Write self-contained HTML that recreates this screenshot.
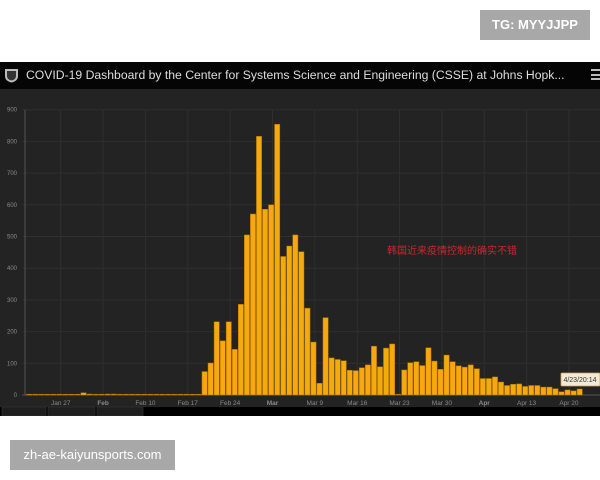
<!DOCTYPE html>
<html><head><meta charset="utf-8"><style>
body{margin:0;width:600px;height:480px;background:#fff;position:relative;overflow:hidden;font-family:"Liberation Sans","Noto Sans CJK SC",sans-serif}
.abs{position:absolute}
</style></head><body>
<div class="abs" style="left:480px;top:10px;width:110px;height:30px;background:#a8a8a8;color:#fff;font-size:13px;font-weight:bold;line-height:30px;text-align:center">TG: MYYJJPP</div>
<div class="abs" style="left:0;top:62px;width:600px;height:27px;background:#050505"></div>
<svg class="abs" style="left:4px;top:67px" width="15" height="16" viewBox="0 0 15 16"><path d="M1 2 L14 2 L14 9 Q14 14 7.5 15.5 Q1 14 1 9Z" fill="#bbb"/><path d="M3 4 L12 4 L12 9 Q12 12.5 7.5 13.5 Q3 12.5 3 9Z" fill="#333"/></svg>
<div class="abs" style="left:26px;top:68px;color:#ddd;font-size:12.2px;white-space:nowrap">COVID-19 Dashboard by the Center for Systems Science and Engineering (CSSE) at Johns Hopk...</div>
<div class="abs" style="left:591px;top:69px;width:9px;height:11px;border-top:2px solid #bbb;border-bottom:2px solid #bbb;box-sizing:border-box"><div style="margin-top:2.5px;height:2px;background:#bbb"></div></div>
<svg class="abs" id="chart" style="left:0;top:89px" width="600" height="327"></svg>
<div class="abs" style="left:10px;top:440px;width:165px;height:30px;background:#a8a8a8;color:#fff;font-size:13px;line-height:30px;text-align:center">zh-ae-kaiyunsports.com</div>
<script>
const values=[0,1,0,1,2,1,0,1,0,7,3,0,1,3,3,1,1,2,2,1,0,1,1,1,1,2,1,1,1,
74,101,231,171,231,144,286,505,571,816,586,600,854,437,470,505,452,
274,167,37,244,117,112,108,78,77,86,95,154,89,148,161,0,79,102,105,93,149,107,81,126,105,92,88,95,83,52,52,57,41,30,34,35,27,30,30,25,25,20,10,16,13,19];
const yTicks=[0,100,200,300,400,500,600,700,800,900];
const xLabels=["Jan 27","Feb","Feb 10","Feb 17","Feb 24","Mar","Mar 9","Mar 16","Mar 23","Mar 30","Apr","Apr 13","Apr 20"];
const xLabelDays=[5,12,19,26,33,40,47,54,61,68,75,82,89];
const boldLabels=["Feb","Mar","Apr"];
const NS="http://www.w3.org/2000/svg";
const svg=document.getElementById('chart');
const top0=89,x0=26.5,pitch=6.05,yBase=395-top0,pxPer=31.7/100;
const xs=i=>x0+i*pitch, ys=v=>yBase-v*pxPer;
function mk(t,a){const e=document.createElementNS(NS,t);for(const k in a)e.setAttribute(k,a[k]);svg.appendChild(e);return e;}
const bg=mk('rect',{x:0,y:0,width:600,height:318,fill:'#232323'});


yTicks.forEach(t=>{
 const g=mk('line',{x1:22,x2:600,y1:ys(t),y2:ys(t),stroke:'#2f2f2f','stroke-width':1});
 
 
 const l=mk('text',{x:17,y:ys(t)+2,'text-anchor':'end','font-size':6,fill:'#8a8a8a'});
 l.textContent=t;
 
 
});
xLabels.forEach((s,k)=>{
 const cx=xs(xLabelDays[k])+4;
 const g=mk('line',{x1:cx,x2:cx,y1:ys(900),y2:yBase,stroke:'#2f2f2f','stroke-width':1});
 
 
 const l=mk('text',{x:cx,y:yBase+10,'text-anchor':'middle','font-size':6.5,fill:'#8a8a8a','font-weight':boldLabels.includes(s)?'bold':'normal'});
 l.textContent=s;
 
 
});
const ax=mk('line',{x1:25,x2:25,y1:ys(900),y2:yBase,stroke:'#555','stroke-width':1});


const bx=mk('line',{x1:22,x2:600,y1:yBase,y2:yBase,stroke:'#555','stroke-width':1});


values.forEach((v,i)=>{
 const h=Math.max(v*pxPer,0.8);
 const b=mk('rect',{x:xs(i),y:yBase-h,width:pitch-0.8,height:h,fill:'#f6a90e',stroke:'#a86f00','stroke-width':0.5});
 
 
});
const ann=mk('text',{x:452,y:165,'text-anchor':'middle','font-size':10,fill:'#c8282e','font-family':'"Liberation Sans","Noto Sans CJK SC",sans-serif'});
ann.textContent='韩国近来疫情控制的确实不错';


const tip=mk('rect',{x:561,y:373-top0,width:39,height:13,fill:'#f3ead6',stroke:'#c9a560','stroke-width':0.8,rx:1});


const tipt=mk('text',{x:580,y:382-top0,'text-anchor':'middle','font-size':7,fill:'#333'});
tipt.textContent='4/23/20:14';


const strip=mk('rect',{x:0,y:318,width:600,height:9,fill:'#000'});


[[2,44],[48,47],[97,46]].forEach(([x,w])=>{
 const t=mk('rect',{x:x,y:318,width:w,height:9,fill:'#1e1e1e',stroke:'#333','stroke-width':0.7});
 
 
});
</script>
</body></html>
